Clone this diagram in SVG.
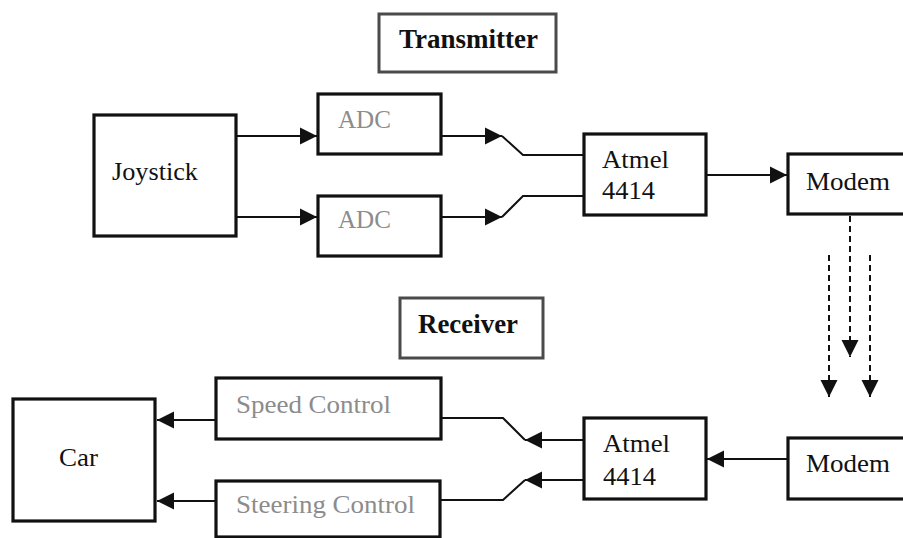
<svg xmlns="http://www.w3.org/2000/svg" width="903" height="538" viewBox="0 0 903 538">
<defs>
<style>
.box{fill:#fff;stroke:#111;stroke-width:3.2}
.title{fill:#fff;stroke:#4a4a4a;stroke-width:3}
.t{font-family:"Liberation Serif","Times New Roman",serif;font-size:26px;fill:#111}
.g{fill:#8c8c8c}
.b{font-weight:bold;font-size:28px}
.ln{fill:none;stroke:#111;stroke-width:2}
.dash{fill:none;stroke:#111;stroke-width:2;stroke-dasharray:6 4}
</style>
<marker id="ah" markerUnits="userSpaceOnUse" markerWidth="18" markerHeight="18" refX="17" refY="9" orient="auto" viewBox="0 0 18 18">
<path d="M0,0.5 L17,9 L0,17.5 z" fill="#111"/>
</marker>
</defs>
<rect width="903" height="538" fill="#fff"/>

<g id="transmitter-title">
<rect class="title" x="379" y="14" width="177" height="58"/>
<text class="t b" x="399" y="48" textLength="139" lengthAdjust="spacingAndGlyphs">Transmitter</text>
</g>
<g id="joystick">
<rect class="box" x="94" y="115" width="142" height="121"/>
<text class="t" x="112" y="180" textLength="86" lengthAdjust="spacingAndGlyphs">Joystick</text>
</g>
<g id="adc1">
<rect class="box" x="318" y="94" width="123" height="60"/>
<text class="t g" x="338" y="128" textLength="53" lengthAdjust="spacingAndGlyphs">ADC</text>
</g>
<g id="adc2">
<rect class="box" x="318" y="196" width="123" height="60"/>
<text class="t g" x="338" y="228" textLength="53" lengthAdjust="spacingAndGlyphs">ADC</text>
</g>
<g id="atmel-tx">
<rect class="box" x="584" y="134" width="122" height="81"/>
<text class="t" x="602" y="168" textLength="67" lengthAdjust="spacingAndGlyphs">Atmel</text>
<text class="t" x="602" y="199" textLength="53" lengthAdjust="spacingAndGlyphs">4414</text>
</g>
<g id="modem-tx">
<rect class="box" x="788" y="154" width="130" height="60"/>
<text class="t" x="806" y="190" textLength="84" lengthAdjust="spacingAndGlyphs">Modem</text>
</g>

<g id="receiver-title">
<rect class="title" x="400" y="298" width="143" height="60"/>
<text class="t b" x="418" y="333" textLength="100" lengthAdjust="spacingAndGlyphs">Receiver</text>
</g>
<g id="car">
<rect class="box" x="13" y="399" width="142" height="122"/>
<text class="t" x="59" y="466" textLength="39" lengthAdjust="spacingAndGlyphs">Car</text>
</g>
<g id="speed-control">
<rect class="box" x="216" y="378" width="225" height="61"/>
<text class="t g" x="236" y="413" textLength="155" lengthAdjust="spacingAndGlyphs">Speed Control</text>
</g>
<g id="steering-control">
<rect class="box" x="216" y="481" width="224" height="56"/>
<text class="t g" x="236" y="513" textLength="179" lengthAdjust="spacingAndGlyphs">Steering Control</text>
</g>
<g id="atmel-rx">
<rect class="box" x="584" y="418" width="122" height="81"/>
<text class="t" x="603" y="452" textLength="67" lengthAdjust="spacingAndGlyphs">Atmel</text>
<text class="t" x="603" y="485" textLength="53" lengthAdjust="spacingAndGlyphs">4414</text>
</g>
<g id="modem-rx">
<rect class="box" x="788" y="438" width="130" height="61"/>
<text class="t" x="806" y="472" textLength="84" lengthAdjust="spacingAndGlyphs">Modem</text>
</g>

<g id="connectors">
<line class="ln" x1="237" y1="136" x2="317" y2="136" marker-end="url(#ah)"/>
<line class="ln" x1="237" y1="217" x2="317" y2="217" marker-end="url(#ah)"/>
<line class="ln" x1="442" y1="136" x2="502" y2="136" marker-end="url(#ah)"/>
<polyline class="ln" points="502,136 523,155 583,155"/>
<line class="ln" x1="442" y1="217" x2="502" y2="217" marker-end="url(#ah)"/>
<polyline class="ln" points="502,217 523,196 583,196"/>
<line class="ln" x1="707" y1="175" x2="787" y2="175" marker-end="url(#ah)"/>
<line class="dash" x1="850" y1="216" x2="850" y2="357" marker-end="url(#ah)"/>
<line class="dash" x1="829" y1="255" x2="829" y2="397" marker-end="url(#ah)"/>
<line class="dash" x1="870" y1="255" x2="870" y2="397" marker-end="url(#ah)"/>
<line class="ln" x1="787" y1="459" x2="707" y2="459" marker-end="url(#ah)"/>
<line class="ln" x1="583" y1="440" x2="525" y2="440" marker-end="url(#ah)"/>
<polyline class="ln" points="525,440 503,418 442,418"/>
<line class="ln" x1="583" y1="480" x2="525" y2="480" marker-end="url(#ah)"/>
<polyline class="ln" points="525,480 503,500 440,500"/>
<line class="ln" x1="215" y1="420" x2="157" y2="420" marker-end="url(#ah)"/>
<line class="ln" x1="215" y1="501" x2="157" y2="501" marker-end="url(#ah)"/>
</g>
</svg>
